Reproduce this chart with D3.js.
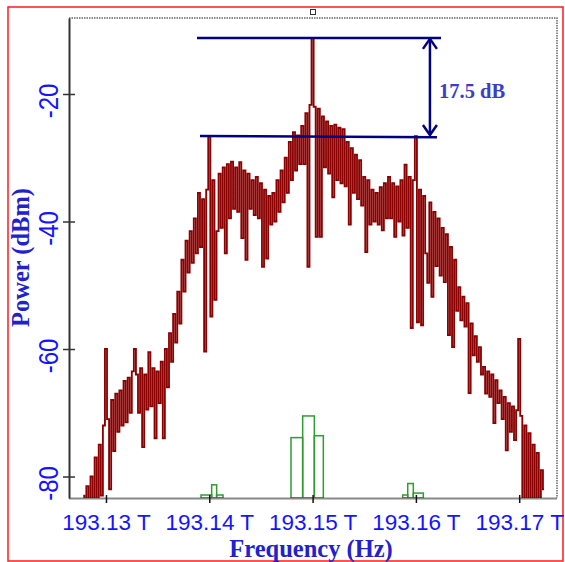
<!DOCTYPE html>
<html><head><meta charset="utf-8">
<script src="https://cdn.jsdelivr.net/npm/d3@7"></script>
<style>html,body{margin:0;padding:0;background:#fff;overflow:hidden}</style>
</head><body><svg id="c" width="565" height="562"></svg>
<script>
// ---- data ----
const freqStart = 193.1278;   // THz, first sample of the trace
const freqStep = 0.0002;      // THz between samples
const power = [
 -83,-84,-81.5,-84,-80,-84,-77,-84,-75,-83,
 -72,-60,-71,-82,-68,-76,-67,-73,-66.5,-72,
 -65,-71.5,-64.5,-70,-63.5,-60,-64,-70,-63,-75.4,
 -64,-69.5,-60.5,-69,-63,-74,-63.5,-68.5,-62,-74,
 -60,-66,-57.5,-62,-54.5,-59,-51,-56,-46,-51,
 -43,-48,-41.5,-46.5,-39.5,-45,-35.5,-44,-36.5,-60.4,
 -35,-26.6,-54.9,-33.5,-52.3,-41.5,-32.5,-41,-31.5,-45,
 -31,-39.5,-30.6,-38,-31.5,-38.5,-30.7,-42.6,-32,-46,
 -32.5,-38,-33.5,-39,-33,-39.5,-34,-47.1,-35,-45.8,
 -36,-40.5,-35.5,-40,-33.5,-38.5,-32,-37,-30,-35.5,
 -27.5,-33.5,-26,-32,-26.5,-31,-25,-31,-23,-47.1,
 -21.7,-11.2,-22,-42.4,-22.3,-42.4,-23.5,-31.5,-24.3,-32.5,
 -25,-36.2,-24.8,-33.5,-25.3,-34,-25.5,-34.5,-27.5,-40.5,
 -28.5,-35.5,-29.5,-36.5,-30.4,-37.5,-33,-44.8,-33.5,-40.5,
 -35,-40,-35.5,-40.5,-34.6,-41.4,-34,-39.5,-33,-39.5,
 -34,-42.4,-34.5,-40,-33.5,-42.2,-31.1,-41,-33,-56.7,
 -33.5,-26.6,-55.8,-35,-56.3,-36,-45,-49.6,-37,-51.8,
 -38.5,-47,-39.5,-48.5,-41,-49.5,-42,-57.8,-44,-59.7,
 -46,-54,-50.3,-55.5,-51.8,-56.5,-52.8,-66.9,-56,-61,
 -58,-62,-59.7,-64,-62.8,-67,-63.5,-67.5,-64,-71.6,
 -64.9,-68.5,-66.5,-71,-67.5,-75.9,-68.5,-73,-69,-74.3,
 -69.6,-58.4,-70.5,-84,-72,-84,-73.2,-84,-75,-84,
 -76.3,-84,-79,-82
];
const xTicks = [193.13, 193.14, 193.15, 193.16, 193.17];
const xTickLabels = ["193.13 T", "193.14 T", "193.15 T", "193.16 T", "193.17 T"];
const yTicks = [-80, -60, -40, -20];
const yTickLabels = ["-80", "-60", "-40", "-20"];
const greenLeft  = [193.1392, 193.14023, 193.14071, 193.14791, 193.14904, 193.15017, 193.15872, 193.15921, 193.15975];
const greenRight = [193.14023, 193.14071, 193.14133, 193.14904, 193.15017, 193.15104, 193.15921, 193.15975, 193.16072];
const greenPower = [-82.9, -81.3, -82.9, -73.9, -70.5, -73.6, -82.9, -81.1, -82.6];
const annoLineFreq0 = [193.13881, 193.1391];
const annoLineFreq1 = [193.16243, 193.16204];
const annoLinePower0 = [-11.2, -26.6];
const annoLinePower1 = [-11.2, -26.8];
const annoArrowFreq = 193.16136;
const annoText = "17.5 dB";
const xTitle = "Frequency (Hz)";
const yTitle = "Power (dBm)";

// ---- layout ----
const W = 565, H = 562;
const L = 69, R = 557, T = 18, B = 498;
const svg = d3.select("#c");
const x = d3.scaleLinear().domain([193.12642, 193.17366]).range([L, R]);
const y = d3.scaleLinear().domain([-83.37, -8.08]).range([B, T]);

// outer red frame
svg.append("rect").attr("x", 8).attr("y", 7).attr("width", 555).attr("height", 554)
  .attr("fill", "none").attr("stroke", "#ff1a1a").attr("stroke-width", 1.5);
// small handle
svg.append("rect").attr("x", 310.5).attr("y", 9.5).attr("width", 5).attr("height", 5)
  .attr("fill", "#fff").attr("stroke", "#333").attr("stroke-width", 1);

// top/right dotted frame
svg.append("path").attr("d", `M${L},${T}H${R}V${B}`)
  .attr("fill", "none").attr("stroke", "#666").attr("stroke-width", 1.5).attr("stroke-dasharray", "1.5,1");

svg.append("clipPath").attr("id", "pc").append("rect")
  .attr("x", L).attr("y", T).attr("width", R - L).attr("height", B - T);

// red spectrum
const pts = power.map((p, i) => [freqStart + i * freqStep, p]);
svg.append("path").datum(pts)
  .attr("clip-path", "url(#pc)")
  .attr("fill", "none").attr("stroke", "#8b0000").attr("stroke-width", 1.85)
  .attr("stroke-linejoin", "miter")
  .attr("d", d3.line().curve(d3.curveStep).x(d => x(d[0])).y(d => y(d[1])));

// green bars (outline only)
svg.append("g").attr("clip-path", "url(#pc)").selectAll("rect").data(greenPower).join("rect")
  .attr("x", (d, i) => x(greenLeft[i]))
  .attr("width", (d, i) => x(greenRight[i]) - x(greenLeft[i]))
  .attr("y", d => y(d))
  .attr("height", d => B - y(d))
  .attr("fill", "none").attr("stroke", "#2e9c2e").attr("stroke-width", 1.5);

// bottom axis
const gx = svg.append("g").attr("transform", `translate(0,${B})`)
  .call(d3.axisBottom(x).tickValues(xTicks).tickSizeOuter(0).tickFormat((d, i) => xTickLabels[i]));
gx.select(".domain").attr("stroke", "#111").attr("stroke-width", 2).attr("stroke-dasharray", "1,1");
gx.selectAll(".tick line").attr("y1", -3).attr("y2", 5).attr("stroke", "#111").attr("stroke-width", 1.5);
gx.selectAll(".tick text").attr("y", 32).attr("dy", 0)
  .attr("font-family", "'Liberation Sans', Arial, sans-serif").attr("font-size", 22.5)
  .attr("fill", "#1414ff");

// left axis
const gy = svg.append("g").attr("transform", `translate(${L},0)`)
  .call(d3.axisLeft(y).tickValues(yTicks).tickSizeOuter(0).tickFormat((d, i) => yTickLabels[i]));
gy.select(".domain").attr("stroke", "#333").attr("stroke-width", 2);
gy.selectAll(".tick line").attr("x1", -6).attr("x2", 6).attr("stroke", "#333").attr("stroke-width", 1.5);
gy.selectAll(".tick text")
  .attr("x", null).attr("dy", null).attr("text-anchor", "middle")
  .attr("transform", "translate(-11,6.5) rotate(-90) scale(1,1.12)")
  .attr("font-family", "'Liberation Sans', Arial, sans-serif").attr("font-size", 24)
  .attr("fill", "#1414ff");

// axis titles
svg.append("text").attr("x", 311).attr("y", 557).attr("text-anchor", "middle")
  .attr("font-family", "'Liberation Serif', 'Times New Roman', serif").attr("font-weight", "bold")
  .attr("font-size", 24.5).attr("fill", "#2222cc").text(xTitle);
svg.append("text").attr("transform", "translate(28.7,257.5) rotate(-90)").attr("text-anchor", "middle")
  .attr("font-family", "'Liberation Serif', 'Times New Roman', serif").attr("font-weight", "bold")
  .attr("font-size", 24.5).attr("fill", "#2222cc").text(yTitle);

// annotation
const navy = "#000080";
const ga = svg.append("g");
ga.selectAll("line.h").data(annoLinePower0).join("line").attr("class", "h")
  .attr("x1", (d, i) => x(annoLineFreq0[i])).attr("x2", (d, i) => x(annoLineFreq1[i]))
  .attr("y1", d => y(d)).attr("y2", (d, i) => y(annoLinePower1[i]))
  .attr("stroke", navy).attr("stroke-width", 2.5);
const ax = x(annoArrowFreq), ay0 = y(annoLinePower0[0]), ay1 = y(annoLinePower0[1]);
ga.append("line").attr("x1", ax).attr("x2", ax).attr("y1", ay0 + 1).attr("y2", ay1 - 1)
  .attr("stroke", navy).attr("stroke-width", 2.5);
ga.append("path").attr("d", `M${ax - 7},${ay0 + 11}L${ax},${ay0 + 1}L${ax + 7},${ay0 + 11}`)
  .attr("fill", "none").attr("stroke", navy).attr("stroke-width", 2.5);
ga.append("path").attr("d", `M${ax - 7},${ay1 - 11}L${ax},${ay1 - 1}L${ax + 7},${ay1 - 11}`)
  .attr("fill", "none").attr("stroke", navy).attr("stroke-width", 2.5);
ga.append("text").attr("x", 439).attr("y", 98)
  .attr("font-family", "'Liberation Serif', 'Times New Roman', serif").attr("font-weight", "bold")
  .attr("font-size", 20.5).attr("fill", "#3d3dc8").text(annoText);
</script>
</body></html>
